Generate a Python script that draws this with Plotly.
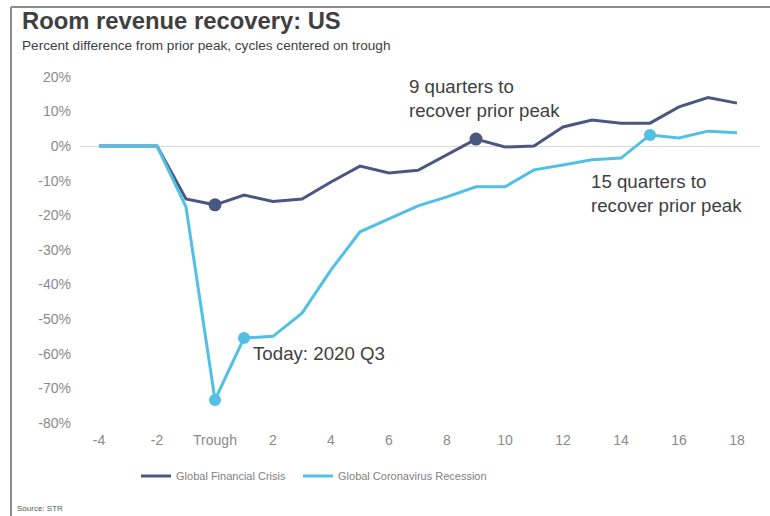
import plotly.graph_objects as go

# Quarters relative to the trough of each cycle
quarters = list(range(-4, 19))
tick_vals = [-4, -2, 0, 2, 4, 6, 8, 10, 12, 14, 16, 18]
tick_text = ["-4", "-2", "Trough", "2", "4", "6", "8", "10", "12", "14", "16", "18"]
y_ticks = [0.2, 0.1, 0.0, -0.1, -0.2, -0.3, -0.4, -0.5, -0.6, -0.7, -0.8]
y_tick_text = ["20%", "10%", "0%", "-10%", "-20%", "-30%", "-40%", "-50%", "-60%", "-70%", "-80%"]

# Room revenue, percent difference from prior peak
gfc = [0.0, 0.0, 0.0, -0.153, -0.17, -0.142, -0.16, -0.153, -0.104, -0.058, -0.078, -0.07,
       -0.026, 0.02, -0.003, 0.0, 0.055, 0.075, 0.066, 0.066, 0.113, 0.14, 0.124]
covid = [0.0, 0.0, 0.0, -0.176, -0.734, -0.555, -0.55, -0.483, -0.358, -0.248, -0.21, -0.173,
         -0.147, -0.118, -0.118, -0.069, -0.055, -0.04, -0.035, 0.032, 0.023, 0.043, 0.038]

# Highlighted quarters on each series
gfc_marks = [0, 9]
covid_marks = [0, 1, 15]

DARK = "#4a5881"
LIGHT = "#52c0e4"
TEXT = "#404040"
TICK = "#8a8a8a"
FONT = "Liberation Sans, Arial, sans-serif"

fig = go.Figure()
fig.add_trace(go.Scatter(x=quarters, y=gfc, mode="lines", name="Global Financial Crisis",
                         line=dict(color=DARK, width=3), legend="legend"))
fig.add_trace(go.Scatter(x=quarters, y=covid, mode="lines", name="Global Coronavirus Recession",
                         line=dict(color=LIGHT, width=3), legend="legend2"))
fig.add_trace(go.Scatter(x=gfc_marks, y=[gfc[quarters.index(q)] for q in gfc_marks],
                         mode="markers", marker=dict(color=DARK, size=13), showlegend=False,
                         hoverinfo="skip"))
fig.add_trace(go.Scatter(x=covid_marks, y=[covid[quarters.index(q)] for q in covid_marks],
                         mode="markers", marker=dict(color=LIGHT, size=12), showlegend=False,
                         hoverinfo="skip"))

ann_font = dict(family=FONT, size=18.7, color=TEXT)
fig.add_annotation(x=9, y=gfc[quarters.index(9)], text="9 quarters to<br>recover prior peak",
                   showarrow=False, xanchor="left", yanchor="bottom", align="left",
                   xshift=-69, yshift=16, font=ann_font)
fig.add_annotation(x=15, y=covid[quarters.index(15)], text="15 quarters to<br>recover prior peak",
                   showarrow=False, xanchor="left", yanchor="top", align="left",
                   xshift=-61, yshift=-34, font=ann_font)
fig.add_annotation(x=1, y=covid[quarters.index(1)], text="Today: 2020 Q3",
                   showarrow=False, xanchor="left", yanchor="middle", align="left",
                   xshift=7, yshift=-15, font=ann_font)

# Title block and source line
fig.add_annotation(xref="paper", yref="paper", x=-0.0883, y=1.108, text="<b>Room revenue recovery: US</b>",
                   showarrow=False, xanchor="left", yanchor="middle",
                   font=dict(family=FONT, size=23.8, color=TEXT))
fig.add_annotation(xref="paper", yref="paper", x=-0.0883, y=1.0405,
                   text="Percent difference from prior peak, cycles centered on trough",
                   showarrow=False, xanchor="left", yanchor="middle",
                   font=dict(family=FONT, size=13.6, color=TEXT))
fig.add_annotation(xref="paper", yref="paper", x=-0.095, y=-0.211, text="Source: STR",
                   showarrow=False, xanchor="left", yanchor="middle",
                   font=dict(family=FONT, size=8, color="#555555"))

# Frame lines along the top and left edge
fig.add_shape(type="line", xref="paper", yref="paper", x0=-0.1015, x1=1.02, y0=1.143, y1=1.143,
              line=dict(color="#8c8c8c", width=2))
fig.add_shape(type="line", xref="paper", yref="paper", x0=-0.1015, x1=-0.1015, y0=1.143, y1=-0.25,
              line=dict(color="#8c8c8c", width=2))

legend_style = dict(orientation="h", xanchor="left", y=-0.085, yanchor="top",
                    font=dict(family=FONT, size=11, color="#7f7f7f"), itemwidth=30,
                    bgcolor="rgba(0,0,0,0)")

fig.update_layout(
    width=770, height=516,
    margin=dict(l=80, r=10, t=60, b=86),
    paper_bgcolor="white", plot_bgcolor="white",
    font=dict(family=FONT, color=TICK),
    showlegend=True,
    legend=dict(x=0.0824, **legend_style),
    legend2=dict(x=0.3206, **legend_style),
    xaxis=dict(range=[-4.655, 18.793], tickvals=tick_vals, ticktext=tick_text,
               showgrid=False, zeroline=False, showline=False, ticks="",
               tickfont=dict(family=FONT, size=14, color=TICK), fixedrange=True),
    yaxis=dict(range=[-0.8208, 0.2486], tickvals=y_ticks, ticktext=y_tick_text,
               showgrid=False, zeroline=True, zerolinecolor="#d9d9d9", zerolinewidth=1,
               showline=False, ticks="", ticklabelstandoff=8,
               tickfont=dict(family=FONT, size=14, color=TICK), fixedrange=True),
)

fig.write_html("out.html")
